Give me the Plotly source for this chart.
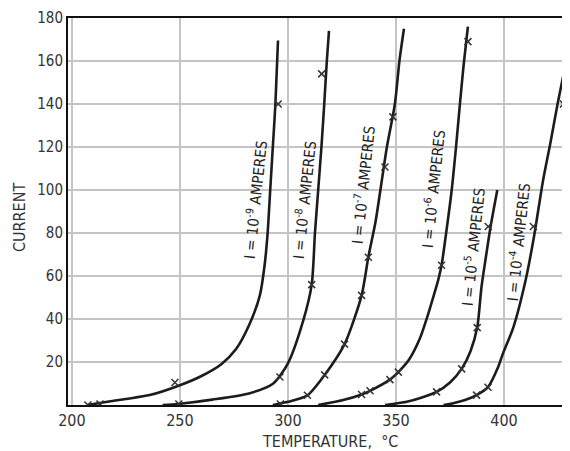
import plotly.graph_objects as go

# ---------------- data ----------------
# curve for I = 1e-9 A
t9 = [207.4, 215, 225, 236, 250, 260, 269.3, 276, 282.4, 287, 289.2, 290.6, 291.8, 293.0, 294.2, 295.4]
i9 = [0, 1.3, 2.8, 4.6, 9.2, 13.5, 19.1, 26, 38, 51, 65, 80, 100, 120, 140, 169.5]
# curve for I = 1e-8 A
t8 = [242, 249.2, 265, 282.4, 293.2, 300, 307, 311, 312.5, 314, 315.5, 316.8, 318, 319]
i8 = [0, 0.5, 2.5, 5.5, 10, 19.4, 39, 56, 80, 100, 120, 140, 160, 174]
# curve for I = 1e-7 A
t7 = [293, 300, 309, 317, 326.2, 334.1, 337.2, 340.5, 342.8, 345.8, 349.5, 351.6, 353.7]
i7 = [0, 1.5, 4.5, 14, 28.3, 51, 68.7, 85, 100, 120, 140, 160, 175]
# curve for I = 1e-6 A
t6 = [314, 325.6, 334.1, 338, 347.2, 351.1, 356, 361.1, 364.5, 367.5, 369.5, 371.1, 373.5, 375.8, 377.8, 379.6, 381.3, 383.3]
i6 = [0, 2.3, 4.9, 6.6, 11.8, 15.3, 21, 31, 41, 51, 58, 65, 82, 100, 120, 140, 158, 176]
# curve for I = 1e-5 A
t5 = [345, 355, 362, 368.8, 375, 380.4, 384.5, 387.6, 389.6, 391.8, 393.8, 396.9]
i5 = [0, 1.5, 3.5, 6.1, 10.5, 16.8, 25, 36, 55, 70, 83, 100]
# curve for I = 1e-4 A
t4 = [372, 376.5, 382, 387.3, 392.6, 397.2, 399.5, 404.3, 410, 414, 418, 421.5, 424.8, 428.2]
i4 = [0, 0.8, 2.3, 4.6, 8.3, 17.4, 23.9, 36, 58, 79, 104, 122, 140, 157]

# measured points (x marks)
m9_t = [207.4, 213, 247.7, 295.5]
m9_i = [0, 0.5, 10.5, 140]
m8_t = [249.5, 296.3, 311, 315.6]
m8_i = [0.5, 13, 56, 154]
m7_t = [296.5, 309, 317, 326.2, 334.1, 337.2, 344.9, 348.6]
m7_i = [0.5, 4.5, 14, 28.3, 51, 68.7, 110.7, 134]
m6_t = [334.1, 338, 347.2, 351.1, 371.1, 383.3]
m6_i = [4.9, 6.6, 11.8, 15.3, 65, 169]
m5_t = [368.8, 380.4, 387.6, 392.7]
m5_i = [6.1, 16.8, 36, 83]
m4_t = [387.3, 392.6, 413.6, 427.5]
m4_i = [4.6, 8.3, 83, 140]

labels = ["-9", "-8", "-7", "-6", "-5", "-4"]
x_ticks = [200, 250, 300, 350, 400]
y_ticks = [20, 40, 60, 80, 100, 120, 140, 160, 180]

# label placement (layout, in data units)
label_pos = [(284.7, 95.7), (307.4, 95.7), (334.7, 102.6), (367.1, 100.8), (385.6, 73.8), (406.5, 75.6)]

FONT = "DejaVu Sans Condensed, Liberation Sans Narrow, DejaVu Sans, sans-serif"
INK = "#1c1c1c"

curves = [(t9, i9), (t8, i8), (t7, i7), (t6, i6), (t5, i5), (t4, i4)]
marks = [(m9_t, m9_i), (m8_t, m8_i), (m7_t, m7_i), (m6_t, m6_i), (m5_t, m5_i), (m4_t, m4_i)]

fig = go.Figure()
for (tx, iy) in curves:
    fig.add_trace(go.Scatter(x=tx, y=iy, mode="lines",
                             line=dict(color=INK, width=2.6, shape="spline", smoothing=0.7),
                             hoverinfo="skip", showlegend=False))
for (tx, iy) in marks:
    fig.add_trace(go.Scatter(x=tx, y=iy, mode="markers",
                             marker=dict(symbol="x-thin", size=7, line=dict(color="#333333", width=1.5)),
                             hoverinfo="skip", showlegend=False))

for lab, (lx, ly) in zip(labels, label_pos):
    fig.add_annotation(x=lx, y=ly, xref="x", yref="y",
                       text=f"I = 10<sup>{lab}</sup> AMPERES",
                       textangle=-84, showarrow=False,
                       font=dict(family=FONT, size=15, color="#222222"))

# plot area in figure pixels
PL, PR, PT, PB = 60, 558, 10, 397
fig.add_annotation(x=(322 - PL) / (PR - PL), y=(PB - 433) / (PB - PT), xref="paper", yref="paper",
                   xanchor="center", yanchor="middle",
                   text="TEMPERATURE,  °C", showarrow=False,
                   font=dict(family=FONT, size=16, color="#333333"))
fig.add_annotation(x=(12 - PL) / (PR - PL), y=(PB - 210) / (PB - PT), xref="paper", yref="paper",
                   xanchor="center", yanchor="middle",
                   text="CURRENT", textangle=-90, showarrow=False,
                   font=dict(family=FONT, size=16, color="#333333"))

fig.update_xaxes(range=[198.2, 428.7], tickvals=x_ticks, ticktext=[str(v) for v in x_ticks],
                 showgrid=True, gridcolor="#c4c4c4", gridwidth=1.5,
                 showline=True, linecolor="#111111", linewidth=2, mirror=True,
                 ticks="", zeroline=False, ticklabeloverflow="allow",
                 tickfont=dict(family=FONT, size=16, color="#333333"))
fig.update_yaxes(range=[0, 180], tickvals=y_ticks, ticktext=[str(v) for v in y_ticks],
                 showgrid=True, gridcolor="#c4c4c4", gridwidth=1.5,
                 showline=True, linecolor="#111111", linewidth=2, mirror=True,
                 ticks="", zeroline=False, ticklabeloverflow="allow",
                 tickfont=dict(family=FONT, size=15, color="#333333"))

# the page body has an 8px margin, so the figure is sized to fit inside the window
fig.update_layout(width=562, height=443,
                  margin=dict(l=PL, r=562 - PR, t=PT, b=443 - PB, autoexpand=False),
                  paper_bgcolor="white", plot_bgcolor="white")

fig.write_html("out.html")
